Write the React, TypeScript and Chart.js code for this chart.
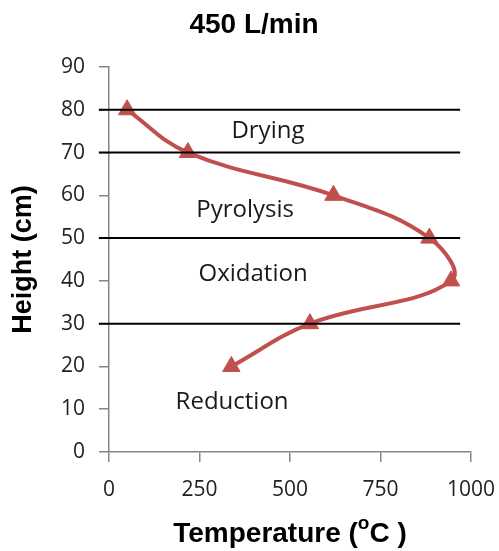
import React, { useEffect, useRef } from 'react';
import { Chart, registerables } from 'chart.js';

Chart.register(...registerables);

// ---- data ----
const titleText = '450 L/min';
const yTitleText = 'Height (cm)';
const xTitleMain = 'Temperature (';
const xTitleSup = 'o';
const xTitleEnd = 'C )';

const temperature = [50, 218, 620, 885, 945, 555, 338];
const heightCm = [80, 70, 60, 50, 40, 30, 20];

const boundaryHeights = [80, 70, 50, 30];
const boundaryFromX = -28;
const boundaryToX = 970;

const regionNames = ['Drying', 'Pyrolysis', 'Oxidation', 'Reduction'];
const regionX = [439, 376, 398, 340];
const regionY = [75, 56.5, 41.6, 11.7];

const xMin = 0;
const xMax = 1000;
const xStep = 250;
const yMin = 0;
const yMax = 90;
const yStep = 10;

const RED = '#C0504D';
const AXIS = '#868686';

const textPlugin = {
  id: 'textPlugin',
  afterDatasetsDraw(chart: any) {
    const { ctx, scales, chartArea } = chart;
    const x = scales.x;
    const y = scales.y;
    ctx.save();
    // region labels
    ctx.fillStyle = '#1a1a1a';
    ctx.font = '24px "Open Sans"';
    ctx.textAlign = 'center';
    ctx.textBaseline = 'middle';
    regionNames.forEach((n, i) => {
      ctx.fillText(n, x.getPixelForValue(regionX[i]), y.getPixelForValue(regionY[i]));
    });
    // main title
    ctx.fillStyle = '#000';
    ctx.font = 'bold 28px "Liberation Sans"';
    ctx.fillText(titleText, 254, 25);
    // y title
    ctx.save();
    ctx.translate(24, (chartArea.top + chartArea.bottom) / 2);
    ctx.rotate(-Math.PI / 2);
    ctx.font = 'bold 27px "Liberation Sans"';
    ctx.fillText(yTitleText, 0, 0);
    ctx.restore();
    // x title with superscript
    ctx.textAlign = 'left';
    ctx.textBaseline = 'alphabetic';
    const mainFont = 'bold 28px "Liberation Sans"';
    const supFont = 'bold 19px "Liberation Sans"';
    ctx.font = mainFont;
    const w1 = ctx.measureText(xTitleMain).width;
    const w3 = ctx.measureText(xTitleEnd).width;
    ctx.font = supFont;
    const w2 = ctx.measureText(xTitleSup).width;
    const total = w1 + w2 + w3;
    const cx = (chartArea.left + chartArea.right) / 2;
    let sx = cx - total / 2;
    const baseY = 542;
    ctx.font = mainFont;
    ctx.fillText(xTitleMain, sx, baseY);
    sx += w1;
    ctx.font = supFont;
    ctx.fillText(xTitleSup, sx, baseY - 13);
    sx += w2;
    ctx.font = mainFont;
    ctx.fillText(xTitleEnd, sx, baseY);
    ctx.restore();
  },
};

export default function App() {
  const ref = useRef<HTMLCanvasElement | null>(null);

  useEffect(() => {
    if (!ref.current) return;
    const curve = temperature.map((t, i) => ({ x: t, y: heightCm[i] }));
    const boundaryDatasets = boundaryHeights.map((h) => ({
      label: 'b' + h,
      data: [
        { x: boundaryFromX, y: h },
        { x: boundaryToX, y: h },
      ],
      borderColor: '#000',
      borderWidth: 2,
      pointRadius: 0,
      showLine: true,
      clip: false as any,
      order: 0,
      tension: 0,
    }));
    const chart = new Chart(ref.current, {
      type: 'scatter',
      data: {
        datasets: [
          ...boundaryDatasets,
          {
            label: 'Temperature',
            data: curve,
            showLine: true,
            borderColor: RED,
            backgroundColor: RED,
            borderWidth: 4,
            tension: 0.4,
            pointStyle: 'triangle',
            pointRadius: 10,
            pointBackgroundColor: RED,
            pointBorderColor: RED,
            pointBorderWidth: 1,
            order: 1,
          } as any,
        ],
      },
      options: {
        responsive: false,
        animation: false,
        events: [],
        layout: { padding: { top: 67, right: 28, left: 0, bottom: 0 } },
        plugins: {
          legend: { display: false },
          tooltip: { enabled: false },
          title: { display: false },
        },
        scales: {
          x: {
            type: 'linear',
            min: xMin,
            max: xMax,
            afterFit: (s: any) => {
              s.height = 99;
              s.paddingLeft = 0;
              s.paddingRight = 0;
            },
            ticks: {
              stepSize: xStep,
              color: '#222',
              font: { family: '"Open Sans"', size: 21 },
              padding: 15,
              maxRotation: 0,
              callback: (v: any) => String(v),
            },
            grid: {
              display: true,
              drawOnChartArea: false,
              drawTicks: true,
              tickLength: 10,
              color: AXIS,
              lineWidth: 1.5,
            },
            border: { display: true, color: AXIS, width: 1.5 },
          },
          y: {
            type: 'linear',
            min: yMin,
            max: yMax,
            afterFit: (s: any) => {
              s.width = 109;
              s.paddingTop = 0;
              s.paddingBottom = 0;
            },
            ticks: {
              stepSize: yStep,
              color: '#222',
              font: { family: '"Open Sans"', size: 21 },
              padding: 14,
              callback: (v: any) => String(v),
            },
            grid: {
              display: true,
              drawOnChartArea: false,
              drawTicks: true,
              tickLength: 10,
              color: AXIS,
              lineWidth: 1.5,
            },
            border: { display: true, color: AXIS, width: 1.5 },
          },
        },
      },
      plugins: [textPlugin],
    });
    return () => chart.destroy();
  }, []);

  return (
    <div style={{ position: 'absolute', left: 0, top: 0, width: 499, height: 551, background: '#fff' }}>
      <canvas ref={ref} width={499} height={551} style={{ display: 'block' }} />
    </div>
  );
}
